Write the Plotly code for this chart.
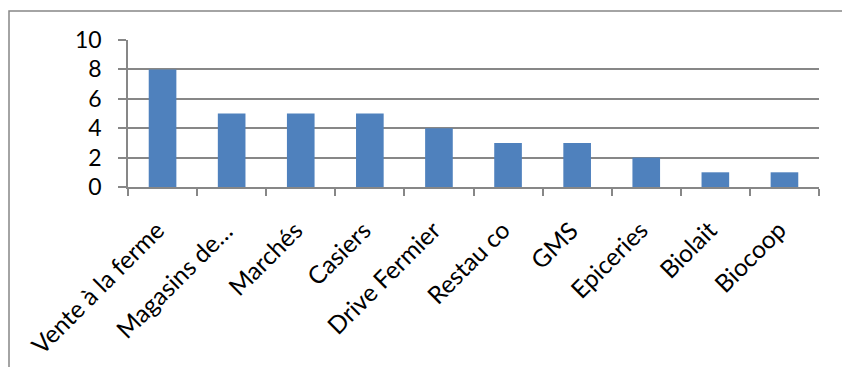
import plotly.graph_objects as go

categories = ["Vente à la ferme", "Magasins de…", "Marchés", "Casiers", "Drive Fermier",
              "Restau co", "GMS", "Epiceries", "Biolait", "Biocoop"]
values = [8, 5, 5, 5, 4, 3, 3, 2, 1, 1]
y_ticks = [0, 2, 4, 6, 8, 10]

W, H = 842, 367
L, R, T, B = 128, 23, 40, 180
pw, ph = W - L - R, H - T - B

def px_x(p):
    return (p - L) / pw

def px_y(p):
    return (H - B - p) / ph

grid = "#878787"
font = "Lato, Noto Sans, sans-serif"

fig = go.Figure(go.Bar(x=categories, y=values, marker=dict(color="#4F81BD", line=dict(width=0))))

annotations = [
    dict(x=c, y=0, xref="x", yref="y", text=c, showarrow=False, textangle=-45,
         xanchor="right", yanchor="top", xshift=8, yshift=-27, borderpad=0,
         font=dict(size=24.5, family=font, color="black"))
    for c in categories
]

fig.update_layout(
    width=W, height=H,
    margin=dict(l=L, r=R, t=T, b=B, pad=0, autoexpand=False),
    paper_bgcolor="white", plot_bgcolor="white",
    bargap=0.6,
    showlegend=False,
    font=dict(family=font, color="black"),
    xaxis=dict(
        range=[-0.5, len(categories) - 0.5], autorange=False,
        showticklabels=False, ticks="outside", ticklen=7,
        tickcolor=grid, tickwidth=1.5, tickson="boundaries", showline=True, linecolor=grid,
        linewidth=1.5, showgrid=False, automargin=False,
    ),
    yaxis=dict(
        range=[0, 10], autorange=False, tickvals=y_ticks, tickfont=dict(size=23), ticks="outside",
        ticklen=8, tickcolor=grid, tickwidth=1.5, showline=True, linecolor=grid, linewidth=1.5,
        showgrid=True, gridcolor=grid, gridwidth=1.5, zeroline=False,
        ticklabelstandoff=12, automargin=False,
    ),
    annotations=annotations,
    shapes=[dict(type="rect", xref="paper", yref="paper",
                 x0=px_x(9), x1=px_x(846), y0=px_y(372), y1=px_y(11),
                 line=dict(color="#868686", width=1.5), fillcolor="rgba(0,0,0,0)",
                 layer="below")],
)

fig.write_html("out.html")
